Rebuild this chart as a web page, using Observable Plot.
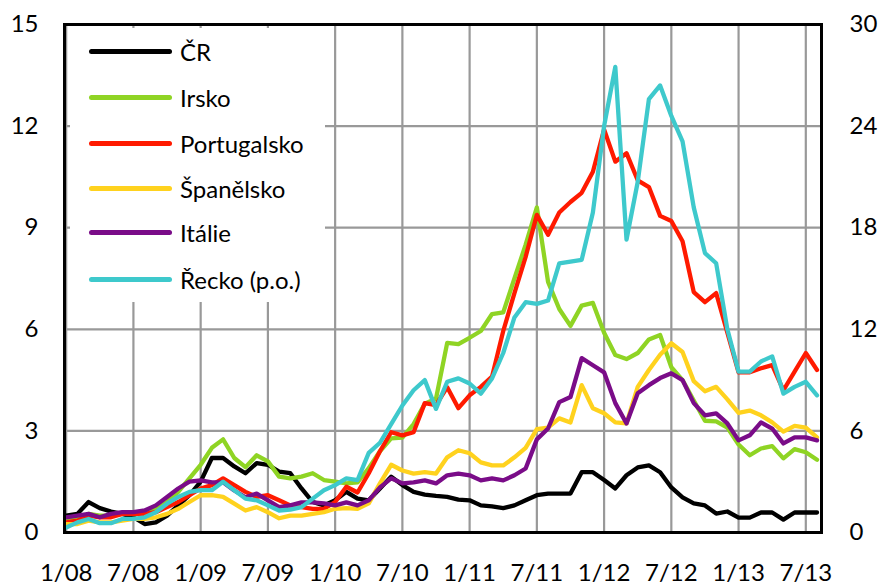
<!DOCTYPE html>
<html><head><meta charset="utf-8">
<script src="https://cdn.jsdelivr.net/npm/d3@7"></script>
<script src="https://cdn.jsdelivr.net/npm/@observablehq/plot@0.6"></script>
<style>
body{margin:0;background:#fff;}
#wrap{position:relative;width:880px;height:585px;font-family:Lato,sans-serif;}
#legend{position:absolute;left:70px;top:28px;width:255px;height:274px;background:#fff;}
.item{position:absolute;left:19px;height:30px;display:flex;align-items:center;font-size:24px;color:#000;white-space:nowrap}
.sw{width:83px;height:5px;border-radius:3px;margin-right:8px}
</style>
</head><body>
<div id="wrap"><div id="legend"></div></div>
<script>
// months 1/08 .. 8/13 (index 0..67)
const tickLabels = ["1/08","7/08","1/09","7/09","1/10","7/10","1/11","7/11","1/12","7/12","1/13","7/13"];
const leftTicks = [0,3,6,9,12,15];
const seriesNames = ["ČR","Irsko","Portugalsko","Španělsko","Itálie","Řecko (p.o.)"];
const seriesColors = ["#000000","#8fd424","#ff1a00","#ffd21e","#7a0c88","#3ec9cc"];

const cr = [0.5,0.55,0.9,0.72,0.62,0.55,0.45,0.25,0.3,0.5,0.8,1.1,1.5,2.2,2.2,1.95,1.75,2.05,2.0,1.8,1.75,1.3,0.9,0.8,0.95,1.2,1.0,0.95,1.3,1.65,1.4,1.2,1.12,1.08,1.05,0.97,0.95,0.8,0.77,0.72,0.8,0.95,1.1,1.15,1.15,1.15,1.78,1.78,1.55,1.3,1.69,1.92,1.98,1.78,1.33,1.04,0.86,0.8,0.56,0.62,0.44,0.44,0.59,0.59,0.38,0.59,0.59,0.59];
const irsko = [0.4,0.4,0.55,0.5,0.5,0.55,0.55,0.55,0.7,0.9,1.2,1.6,2.0,2.5,2.75,2.2,1.93,2.28,2.1,1.65,1.6,1.65,1.75,1.55,1.5,1.45,1.48,1.9,2.4,2.78,2.8,3.2,3.8,3.95,5.6,5.56,5.75,5.95,6.45,6.5,7.5,8.5,9.6,7.4,6.6,6.1,6.7,6.78,5.9,5.24,5.12,5.3,5.7,5.83,4.88,4.5,3.9,3.3,3.28,3.1,2.6,2.28,2.48,2.55,2.19,2.46,2.37,2.15];
const portugalsko = [0.3,0.35,0.5,0.45,0.45,0.55,0.55,0.55,0.6,0.75,0.9,1.1,1.3,1.4,1.6,1.4,1.2,1.05,1.1,0.95,0.8,0.75,0.7,0.7,0.9,1.35,1.18,1.75,2.4,2.96,2.87,2.96,3.82,3.76,4.29,3.67,4.05,4.3,4.6,5.95,7.07,8.14,9.38,8.79,9.45,9.76,10.03,10.65,11.9,10.95,11.2,10.4,10.2,9.35,9.2,8.6,7.1,6.8,7.07,5.9,4.73,4.73,4.85,4.94,4.2,4.75,5.3,4.8];
const spanelsko = [0.25,0.25,0.35,0.3,0.3,0.35,0.4,0.4,0.45,0.55,0.7,0.9,1.1,1.1,1.05,0.85,0.65,0.75,0.6,0.42,0.5,0.5,0.55,0.6,0.7,0.72,0.7,0.86,1.45,2.0,1.83,1.74,1.78,1.74,2.22,2.43,2.34,2.07,1.98,1.98,2.22,2.5,3.05,3.1,3.37,3.25,4.35,3.67,3.52,3.25,3.22,4.3,4.8,5.25,5.59,5.33,4.47,4.17,4.3,3.93,3.53,3.6,3.46,3.25,2.98,3.15,3.1,2.81];
const italie = [0.45,0.5,0.55,0.45,0.55,0.6,0.6,0.65,0.8,1.05,1.3,1.5,1.54,1.48,1.48,1.24,1.04,1.15,0.95,0.75,0.8,0.89,0.89,0.86,0.8,0.89,0.8,0.95,1.33,1.6,1.45,1.48,1.54,1.45,1.69,1.74,1.69,1.54,1.6,1.54,1.69,1.89,2.75,3.07,3.85,4.0,5.15,4.94,4.73,3.82,3.22,4.11,4.35,4.56,4.7,4.5,3.82,3.46,3.52,3.22,2.72,2.87,3.25,3.07,2.63,2.81,2.81,2.72];
// Greece on the right axis (0-30)
const recko = [0.3,0.6,0.8,0.55,0.55,0.8,0.8,0.9,1.2,1.7,2.1,2.4,2.5,2.5,3.0,2.5,2.0,1.9,1.6,1.3,1.35,1.5,2.0,2.5,2.8,3.2,3.1,4.7,5.3,6.4,7.5,8.4,9.0,7.3,8.9,9.1,8.8,8.2,9.1,10.6,12.7,13.6,13.5,13.7,15.9,16.0,16.1,18.9,24.0,27.5,17.3,20.7,25.6,26.4,24.6,23.1,19.2,16.5,15.9,12.0,9.5,9.5,10.1,10.4,8.2,8.6,8.9,8.1];

const seriesData = [cr, irsko, portugalsko, spanelsko, italie, recko];
const rightFactor = 2;
const tickIdx = tickLabels.map((_, i) => i * 6);

const rows = (arr, k) => arr.map((v, i) => ({i, v: k === 5 ? v / rightFactor : v}));

const marks = [
  Plot.gridX(tickIdx, {stroke: "#999999", strokeOpacity: 1, strokeWidth: 2.2}),
  Plot.gridY(leftTicks, {stroke: "#999999", strokeOpacity: 1, strokeWidth: 2.2}),
  Plot.axisX(tickIdx, {tickSize: 0, tickPadding: 31, tickFormat: d => tickLabels[d / 6], label: null}),
  Plot.axisY(leftTicks, {anchor: "left", tickSize: 0, tickPadding: 26, label: null}),
  Plot.axisY(leftTicks, {anchor: "right", tickSize: 0, tickPadding: 28, tickFormat: d => d * rightFactor, label: null})
];
seriesData.forEach((arr, k) => {
  marks.push(Plot.line(rows(arr, k), {x: "i", y: "v", stroke: seriesColors[k], strokeWidth: 4.3, strokeLinejoin: "round", strokeLinecap: "round"}));
});
marks.push(Plot.frame({stroke: "#000", strokeWidth: 3}));

const chart = Plot.plot({
  width: 880, height: 585,
  marginLeft: 64, marginRight: 59, marginTop: 24, marginBottom: 53,
  style: {fontFamily: "Lato, sans-serif", fontSize: "24px", color: "#000", background: "#fff", overflow: "visible"},
  x: {domain: [-0.15, 67.4]},
  y: {domain: [0, 15]},
  marks
});
const wrap = document.getElementById("wrap");
wrap.insertBefore(chart, wrap.firstChild);

const legend = document.getElementById("legend");
const centers = [23, 69, 115, 160, 204, 251];
seriesNames.forEach((name, k) => {
  const it = document.createElement("div");
  it.className = "item";
  it.style.top = (centers[k] - 15) + "px";
  it.innerHTML = `<span class="sw" style="background:${seriesColors[k]}"></span><span>${name}</span>`;
  legend.appendChild(it);
});
</script>
</body></html>
